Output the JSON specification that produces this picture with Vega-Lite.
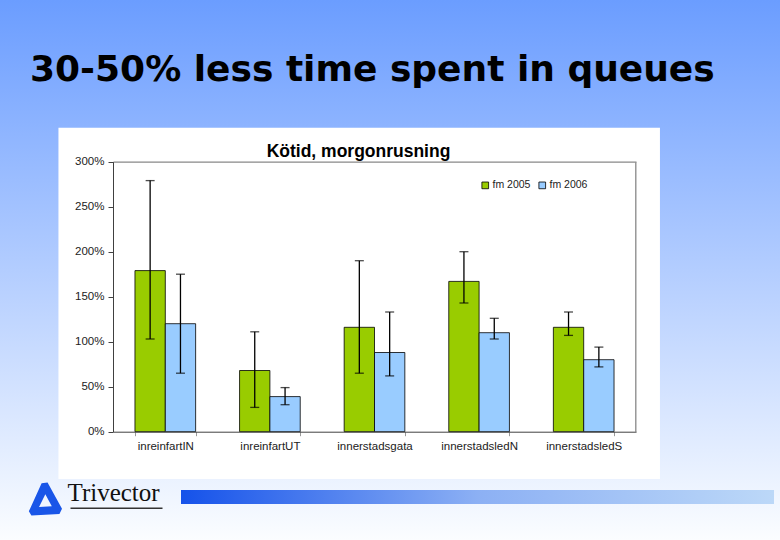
{
  "$schema": "https://vega.github.io/schema/vega-lite/v6.json",
  "width": 780,
  "height": 540,
  "autosize": {"type": "none"},
  "padding": 0,
  "background": "#ffffff",
  "title": {
    "text": "30-50% less time spent in queues",
    "anchor": "start",
    "frame": "group",
    "offset": -117.4,
    "dx": 30,
    "font": "DejaVu Sans",
    "fontSize": 36,
    "fontWeight": "bold",
    "color": "#000000",
    "baseline": "alphabetic"
  },
  "config": {
    "view": {
      "stroke": null,
      "fill": {
        "gradient": "linear",
        "x1": 0, "y1": 0, "x2": 0, "y2": 1,
        "stops": [
          {"offset": 0, "color": "#6b9dff"},
          {"offset": 1, "color": "#fbfdff"}
        ]
      }
    },
    "axis": {"zindex": 1, "grid": false, "labelFont": "Liberation Sans", "titleFont": "Liberation Sans"},
    "font": "Liberation Sans"
  },
  "data": {
    "values": [
      {"site": "inreinfartIN", "year": "fm 2005", "value": 1.79, "lo": 1.03, "hi": 2.79},
      {"site": "inreinfartIN", "year": "fm 2006", "value": 1.20, "lo": 0.65, "hi": 1.75},
      {"site": "inreinfartUT", "year": "fm 2005", "value": 0.68, "lo": 0.27, "hi": 1.11},
      {"site": "inreinfartUT", "year": "fm 2006", "value": 0.39, "lo": 0.30, "hi": 0.49},
      {"site": "innerstadsgata", "year": "fm 2005", "value": 1.16, "lo": 0.65, "hi": 1.90},
      {"site": "innerstadsgata", "year": "fm 2006", "value": 0.88, "lo": 0.62, "hi": 1.33},
      {"site": "innerstadsledN", "year": "fm 2005", "value": 1.67, "lo": 1.43, "hi": 2.00},
      {"site": "innerstadsledN", "year": "fm 2006", "value": 1.10, "lo": 1.03, "hi": 1.26},
      {"site": "innerstadsledS", "year": "fm 2005", "value": 1.16, "lo": 1.07, "hi": 1.33},
      {"site": "innerstadsledS", "year": "fm 2006", "value": 0.80, "lo": 0.72, "hi": 0.94}
    ]
  },
  "layer": [
    {
      "data": {"values": [{}]},
      "mark": {"type": "bar", "color": "#ffffff", "width": 601.5, "xOffset": -15.3},
      "encoding": {
        "x": {"datum": "innerstadsgata", "type": "nominal", "axis": null},
        "y": {"datum": 3.378, "type": "quantitative", "axis": null},
        "y2": {"datum": -0.526}
      }
    },
    {
      "data": {"values": [{}]},
      "mark": {
        "type": "bar",
        "width": 593,
        "xOffset": -1.6,
        "color": {
          "gradient": "linear",
          "x1": 0, "y1": 0, "x2": 1, "y2": 0,
          "stops": [
            {"offset": 0, "color": "#1552ea"},
            {"offset": 0.5, "color": "#8cb0f4"},
            {"offset": 1, "color": "#bcd8f8"}
          ]
        }
      },
      "encoding": {
        "x": {"datum": "innerstadsledN", "type": "nominal", "axis": null},
        "y": {"datum": -0.648, "type": "quantitative", "axis": null},
        "y2": {"datum": -0.803}
      }
    },
    {
      "data": {"values": [{}]},
      "mark": {
        "type": "point",
        "filled": true,
        "opacity": 1,
        "color": "#1a56e8",
        "size": 1156,
        "xOffset": -120.3,
        "shape": "M-0.95,0.7 L-0.2,-0.95 L0.15,-1 L1,0.55 L0.85,0.85 L-0.8,0.95 Z M-0.35,0.45 L0.4,0.4 L0.02,-0.3 Z"
      },
      "encoding": {
        "x": {"datum": "inreinfartIN", "type": "nominal", "axis": null},
        "y": {"datum": -0.753, "type": "quantitative", "axis": null}
      }
    },
    {
      "data": {"values": [{}]},
      "mark": {"type": "bar", "color": "#333333", "width": 92, "xOffset": -48.8},
      "encoding": {
        "x": {"datum": "inreinfartIN", "type": "nominal", "axis": null},
        "y": {"datum": -0.842, "type": "quantitative", "axis": null},
        "y2": {"datum": -0.859}
      }
    },
    {
      "mark": {"type": "bar", "stroke": "#000000", "strokeWidth": 0.8},
      "encoding": {
        "x": {
          "field": "site",
          "type": "nominal",
          "sort": null,
          "scale": {
            "domain": ["inreinfartIN", "inreinfartUT", "innerstadsgata", "innerstadsledN", "innerstadsledS"],
            "range": [113, 636],
            "paddingInner": 0.42,
            "paddingOuter": 0.21
          },
          "axis": {
            "orient": "bottom",
            "offset": -108.3,
            "zindex": 1,
            "labelAngle": 0,
            "labelFontSize": 11.5,
            "labelColor": "#222222",
            "labelPadding": 5,
            "domainColor": "#404040",
            "ticks": true,
            "tickBand": "extent",
            "tickSize": 4,
            "tickColor": "#999999",
            "title": "Trivector",
            "titleX": 67,
            "titleY": 68.3,
            "titleAlign": "left",
            "titleBaseline": "alphabetic",
            "titleFont": "Liberation Serif",
            "titleFontSize": 25,
            "titleFontWeight": "normal",
            "titleColor": "#111111"
          }
        },
        "xOffset": {
          "field": "year",
          "type": "nominal",
          "scale": {"paddingInner": 0, "paddingOuter": 0}
        },
        "y": {
          "field": "value",
          "type": "quantitative",
          "scale": {"domain": [0, 3], "range": [431.7, 161.7], "nice": false, "zero": true},
          "axis": {
            "orient": "left",
            "offset": -113,
            "zindex": 1,
            "values": [0, 0.5, 1, 1.5, 2, 2.5, 3],
            "format": ".0%",
            "labelFontSize": 11.5,
            "labelColor": "#222222",
            "labelPadding": 4,
            "tickSize": 5,
            "tickColor": "#404040",
            "domainColor": "#404040",
            "title": "Kötid, morgonrusning",
            "titleAngle": 0,
            "titleX": 245,
            "titleY": 156,
            "titleAlign": "center",
            "titleBaseline": "alphabetic",
            "titleFontSize": 17.5,
            "titleFontWeight": "bold",
            "titleColor": "#000000"
          }
        },
        "color": {
          "field": "year",
          "type": "nominal",
          "scale": {"domain": ["fm 2005", "fm 2006"], "range": ["#99cc00", "#99ccff"]},
          "legend": {
            "orient": "none",
            "legendX": 480,
            "legendY": 180,
            "direction": "horizontal",
            "title": null,
            "symbolType": "square",
            "symbolSize": 45,
            "symbolStrokeColor": "#000000",
            "symbolStrokeWidth": 0.8,
            "labelFontSize": 10.5,
            "labelFont": "Liberation Sans",
            "labelColor": "#222222",
            "labelOffset": 2,
            "columnPadding": 6,
            "padding": 0
          }
        }
      }
    },
    {
      "mark": {"type": "rule", "color": "#000000", "strokeWidth": 1.3},
      "encoding": {
        "x": {
          "field": "site",
          "type": "nominal",
          "sort": null,
          "axis": {"orient": "top", "offset": -161.7, "zindex": 1, "labels": false, "ticks": false, "title": null, "domainColor": "#888888", "domainWidth": 1.3}
        },
        "xOffset": {"field": "year", "type": "nominal"},
        "y": {
          "field": "lo",
          "type": "quantitative",
          "axis": {"orient": "right", "offset": -144.7, "zindex": 1, "labels": false, "ticks": false, "title": null, "domainColor": "#888888", "domainWidth": 1.3}
        },
        "y2": {"field": "hi"}
      }
    },
    {
      "mark": {"type": "tick", "color": "#000000", "size": 9, "thickness": 1.3, "orient": "horizontal"},
      "encoding": {
        "x": {"field": "site", "type": "nominal", "sort": null, "axis": null},
        "xOffset": {"field": "year", "type": "nominal"},
        "y": {"field": "hi", "type": "quantitative", "axis": null}
      }
    },
    {
      "mark": {"type": "tick", "color": "#000000", "size": 9, "thickness": 1.3, "orient": "horizontal"},
      "encoding": {
        "x": {"field": "site", "type": "nominal", "sort": null, "axis": null},
        "xOffset": {"field": "year", "type": "nominal"},
        "y": {"field": "lo", "type": "quantitative", "axis": null}
      }
    }
  ],
  "resolve": {"axis": {"x": "independent", "y": "independent"}}
}
